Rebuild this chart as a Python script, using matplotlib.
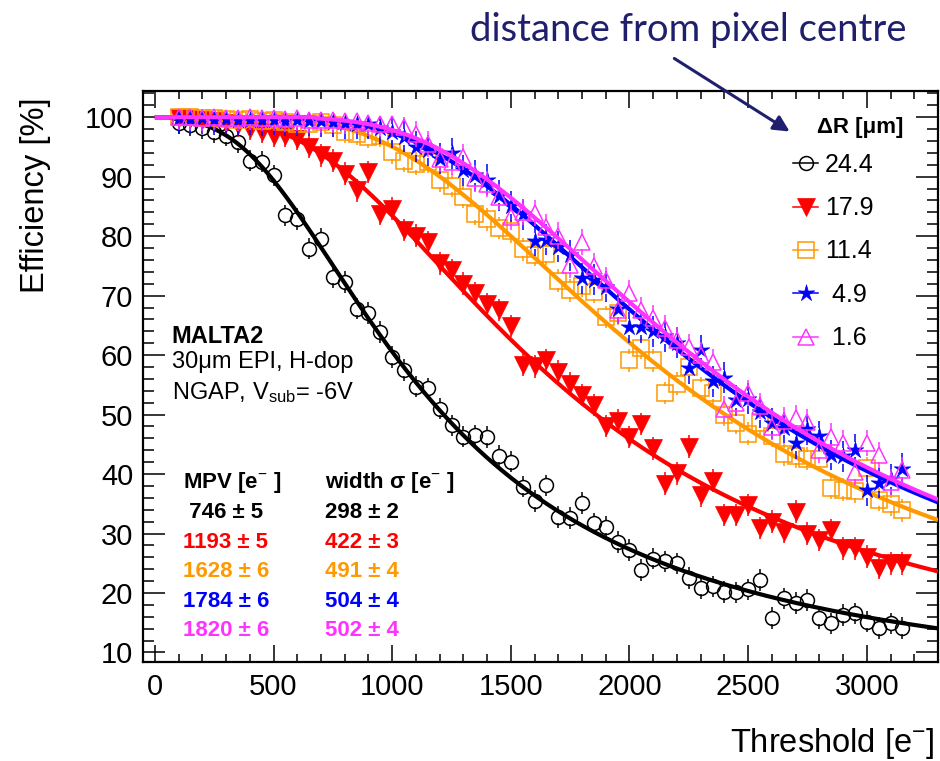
import numpy as np
import matplotlib
matplotlib.use("Agg")
import matplotlib.pyplot as plt
from matplotlib.lines import Line2D
from matplotlib.patches import FancyArrowPatch
from matplotlib.path import Path

plt.rcParams['font.family'] = ['Liberation Sans', 'DejaVu Sans']
plt.rcParams['mathtext.fontset'] = 'custom'
plt.rcParams['mathtext.rm'] = 'Liberation Sans'
plt.rcParams['mathtext.it'] = 'Liberation Sans:italic'
plt.rcParams['mathtext.bf'] = 'Liberation Sans:bold'

# ---------------- data ----------------
threshold = [100, 150, 200, 250, 300, 350, 400, 450, 500, 550, 600, 650, 700, 750,
             800, 850, 900, 950, 1000, 1050, 1100, 1150, 1200, 1250, 1300, 1350,
             1400, 1450, 1500, 1550, 1600, 1650, 1700, 1750, 1800, 1850, 1900,
             1950, 2000, 2050, 2100, 2150, 2200, 2250, 2300, 2350, 2400, 2450,
             2500, 2550, 2600, 2650, 2700, 2750, 2800, 2850, 2900, 2950, 3000,
             3050, 3100, 3150]

eff_24p4 = [99.0, 98.6, 98.1, 97.5, 96.9, 95.8, 92.7, 92.5, 90.2, 83.5, 82.9, 77.9,
            79.6, 73.1, 72.3, 67.8, 67.1, 63.9, 59.7, 57.5, 54.7, 54.4, 51.0, 48.2,
            46.3, 46.5, 46.2, 43.0, 42.1, 37.9, 35.5, 38.1, 32.8, 32.6, 35.1, 31.7,
            31.1, 28.6, 27.2, 23.9, 25.8, 25.3, 25.0, 22.5, 20.8, 21.1, 20.2, 20.1,
            20.6, 22.2, 15.8, 19.1, 18.3, 18.8, 15.8, 14.9, 16.3, 16.6, 15.2, 14.1,
            14.9, 14.1]

eff_17p9 = [99.8, 99.7, 99.6, 99.4, 99.0, 98.6, 98.0, 97.5, 96.9, 96.9, 96.4, 95.0,
            93.6, 92.7, 90.5, 87.7, 90.8, 83.8, 84.6, 81.0, 80.1, 79.0, 75.4, 74.3,
            72.0, 70.4, 68.6, 67.6, 64.9, 58.4, 58.1, 59.1, 57.2, 55.2, 53.3, 51.6,
            48.1, 49.0, 46.2, 48.4, 44.3, 38.4, 40.1, 44.6, 36.4, 38.9, 33.1, 33.1,
            34.8, 30.9, 32.0, 30.3, 33.7, 30.0, 28.9, 30.6, 27.5, 27.5, 26.1, 24.2,
            25.0, 25.0]

eff_11p4 = [100.0, 100.0, 99.9, 99.9, 99.7, 99.6, 99.7, 99.4, 99.5, 99.2, 98.9, 98.8,
            99.2, 98.6, 97.5, 97.2, 96.7, 96.9, 94.1, 92.7, 92.2, 92.5, 89.4, 88.5,
            86.6, 83.8, 82.8, 81.4, 80.8, 77.8, 76.8, 77.0, 72.5, 70.9, 71.6, 70.6,
            66.4, 67.0, 59.1, 61.2, 59.1, 53.6, 55.2, 58.0, 54.4, 53.7, 50.0, 48.6,
            46.8, 48.5, 46.4, 43.3, 43.0, 42.6, 42.5, 37.7, 37.4, 37.1, 41.0, 35.7,
            34.9, 33.9]

eff_4p9 = [99.8, 99.7, 99.8, 99.6, 99.7, 99.5, 99.6, 99.5, 99.6, 99.4, 99.5, 99.4,
           99.3, 99.2, 99.0, 98.9, 98.9, 98.1, 97.5, 96.7, 95.0, 94.4, 93.0, 93.9,
           91.1, 90.2, 89.5, 86.8, 85.0, 83.7, 79.2, 79.4, 78.2, 76.8, 72.9, 72.7,
           71.5, 67.8, 64.7, 64.7, 64.0, 63.2, 62.1, 57.8, 60.8, 55.6, 56.2, 52.4,
           52.7, 50.4, 48.5, 47.8, 45.2, 47.5, 46.4, 43.2, 43.0, 44.1, 37.3, 38.5,
           39.1, 40.9]

eff_1p6 = [100.0, 100.0, 99.9, 100.0, 99.9, 99.9, 100.0, 99.8, 99.9, 99.7, 99.8, 99.6,
           99.6, 99.5, 99.3, 99.4, 99.0, 98.9, 98.9, 98.3, 97.2, 95.5, 93.0, 92.5,
           93.3, 89.7, 88.8, 86.6, 83.2, 84.0, 83.9, 81.5, 80.1, 75.1, 79.0, 75.0,
           72.6, 67.5, 70.4, 67.5, 66.2, 64.5, 62.5, 61.4, 60.0, 58.9, 51.0, 51.9,
           53.6, 51.5, 47.9, 49.0, 49.4, 48.8, 44.0, 46.3, 45.2, 40.4, 45.2, 43.2,
           38.7, 40.7]

delta_r = ["24.4", "17.9", "11.4", " 4.9", " 1.6"]
mpv = [746, 1193, 1628, 1784, 1820]
mpv_err = [5, 5, 6, 6, 6]
width_sigma = [298, 422, 491, 504, 502]
width_sigma_err = [2, 3, 4, 4, 4]
stat_err = [1.8, 1.9, 1.9, 2.6, 2.2]

series = [eff_24p4, eff_17p9, eff_11p4, eff_4p9, eff_1p6]
colors = ['#000000', '#ff0000', '#ff9900', '#0000ff', '#ff33ff']

# thin-armed five-pointed star
_ang = np.pi / 2 + np.arange(10) * np.pi / 5
_rad = np.where(np.arange(10) % 2 == 0, 1.0, 0.34)
_v = np.column_stack([_rad * np.cos(_ang), _rad * np.sin(_ang)])
thin_star = Path(np.vstack([_v, _v[:1]]), closed=True)

markers = [dict(marker='o', ms=10, mfc='none', mew=1.1),
           dict(marker='v', ms=12.5, mfc=None, mew=0.5),
           dict(marker='s', ms=11, mfc='none', mew=1.1),
           dict(marker=thin_star, ms=12.5, mfc=None, mew=0.5),
           dict(marker='^', ms=11.5, mfc='none', mew=1.1)]

# offset between the Landau location parameter and its most probable value
LANDAU_MODE = -0.22278


def landau_survival(lam):
    """Fraction of a Landau(0,1) distribution above lam."""
    t = np.linspace(0.0, 40.0, 40001)
    tt = t[1:]
    base = -tt * np.log(tt)
    osc = np.sin(np.pi * tt) / tt
    grid = np.linspace(-2.5, 12.0, 1451)
    vals = np.empty_like(grid)
    f = np.empty_like(t)
    f[0] = np.pi
    for i, l in enumerate(grid):
        f[1:] = np.exp(base - l * tt) * osc
        vals[i] = np.trapezoid(f, t) / np.pi
    out = np.interp(np.asarray(lam, float), grid, vals, left=1.0)
    return np.clip(out, 0.0, 1.0)


W, H = 940, 761
fig = plt.figure(figsize=(W / 100, H / 100), dpi=100)
ax = fig.add_axes([143 / W, 1 - 662 / H, (938 - 143) / W, (662 - 91) / H])

XMIN, XMAX, YMIN, YMAX = -50, 3300, 8.4, 104.4
ax.set_xlim(XMIN, XMAX)
ax.set_ylim(YMIN, YMAX)

data_per_px = (YMAX - YMIN) / (662 - 91)

xfit = np.linspace(0, XMAX, 700)
for k in range(5):
    y = np.asarray(series[k], float)
    x = np.asarray(threshold, float)
    c = colors[k]
    m = dict(markers[k])
    gap = m['ms'] / 2 * (100 / 72) * data_per_px * 0.9
    err = stat_err[k]
    up_lo = y + gap
    up_hi = np.minimum(y + err, 100.0)
    sel = up_hi > up_lo
    ax.vlines(x[sel], up_lo[sel], up_hi[sel], colors=c, lw=1.1, zorder=2 + k)
    ax.vlines(x, y - err, y - gap, colors=c, lw=1.1, zorder=2 + k)
    if m['mfc'] is None:
        m['mfc'] = c
    ax.plot(x, y, ls='none', color=c, mec=c, zorder=2 + k, **m)
    lam = (xfit - mpv[k]) / width_sigma[k] + LANDAU_MODE
    ax.plot(xfit, 100 * landau_survival(lam), color=c, lw=3.0, zorder=2.5 + k,
            solid_capstyle='butt')

for s in ax.spines.values():
    s.set_linewidth(1.6)
ax.set_xticks([0, 500, 1000, 1500, 2000, 2500, 3000])
ax.set_xticks(np.arange(0, 3301, 100), minor=True)
ax.set_yticks([10, 20, 30, 40, 50, 60, 70, 80, 90, 100])
ax.set_yticks(np.arange(10, 105, 2), minor=True)
ax.tick_params(which='both', direction='in', top=True, right=True, width=1.1)
ax.xaxis.set_tick_params(which='major', length=12, pad=8)
ax.xaxis.set_tick_params(which='minor', length=6)
ax.yaxis.set_tick_params(which='major', length=16, pad=7)
ax.yaxis.set_tick_params(which='minor', length=7.8)
for lab in ax.get_xticklabels() + ax.get_yticklabels():
    lab.set_fontsize(21)

fig.text(935 / W, 1 - 752 / H, r'Threshold [e$^{-}$]', fontsize=23.5,
         ha='right', va='baseline')
fig.text(36 / W, 1 - 97 / H, 'Efficiency [%]', fontsize=23.5, rotation=90,
         ha='center', va='top')


def fx(px):
    return px / W


def fy(py):
    return 1 - py / H


fig.text(fx(171.7), fy(343.3), 'MALTA2', fontsize=17, fontweight='bold', va='baseline')
fig.text(fx(171.7), fy(368.3), '30\u03bcm EPI, H-dop', fontsize=17, va='baseline')
fig.text(fx(171.7), fy(399.3), r'NGAP, V$_{\rm sub}$= -6V', fontsize=17, va='baseline')

fig.text(fx(183.3), fy(488.3), r'MPV [e$^{-}$ ]', fontsize=16, fontweight='bold',
         va='baseline')
fig.text(fx(325), fy(488.3), 'width \u03c3 [e$^{-}$ ]', fontsize=16, fontweight='bold',
         va='baseline')
row_base = [518.3, 548.3, 577.3, 606.7, 636.0]
for k in range(5):
    mtxt = f"{mpv[k]} \u00b1 {mpv_err[k]}"
    if mpv[k] < 1000:
        mtxt = " " + mtxt
    fig.text(fx(183.3), fy(row_base[k]), mtxt, fontsize=16, fontweight='bold',
             color=colors[k], va='baseline')
    fig.text(fx(325), fy(row_base[k]), f"{width_sigma[k]} \u00b1 {width_sigma_err[k]}",
             fontsize=16, fontweight='bold', color=colors[k], va='baseline')

fig.text(fx(816.7), fy(133.3), '\u0394R [\u03bcm]', fontsize=16, fontweight='bold',
         va='baseline')
leg_base = [171.7, 215.0, 258.3, 301.7, 345.0]
for k in range(5):
    yc = leg_base[k] - 8.5
    fig.add_artist(Line2D([fx(793), fx(818)], [fy(yc), fy(yc)], color=colors[k],
                          lw=1.1, transform=fig.transFigure))
    m = dict(markers[k])
    if m['mfc'] is None:
        m['mfc'] = colors[k]
    fig.add_artist(Line2D([fx(805.5)], [fy(yc)], ls='none', color=colors[k],
                          mec=colors[k], transform=fig.transFigure, **m))
    fig.text(fx(825), fy(leg_base[k]), delta_r[k], fontsize=18, va='baseline')

navy = '#1f1f6e'
fig.text(fx(906), fy(41), 'distance from pixel centre', fontsize=27.5, color=navy,
         family=['Lato', 'DejaVu Sans'], ha='right', va='baseline')
fig.add_artist(FancyArrowPatch((fx(672), fy(57)), (fx(792), fy(133)),
                               transform=fig.transFigure, arrowstyle='-|>',
                               mutation_scale=24, lw=2.2, color=navy))

fig.savefig('out.png', dpi=100)
